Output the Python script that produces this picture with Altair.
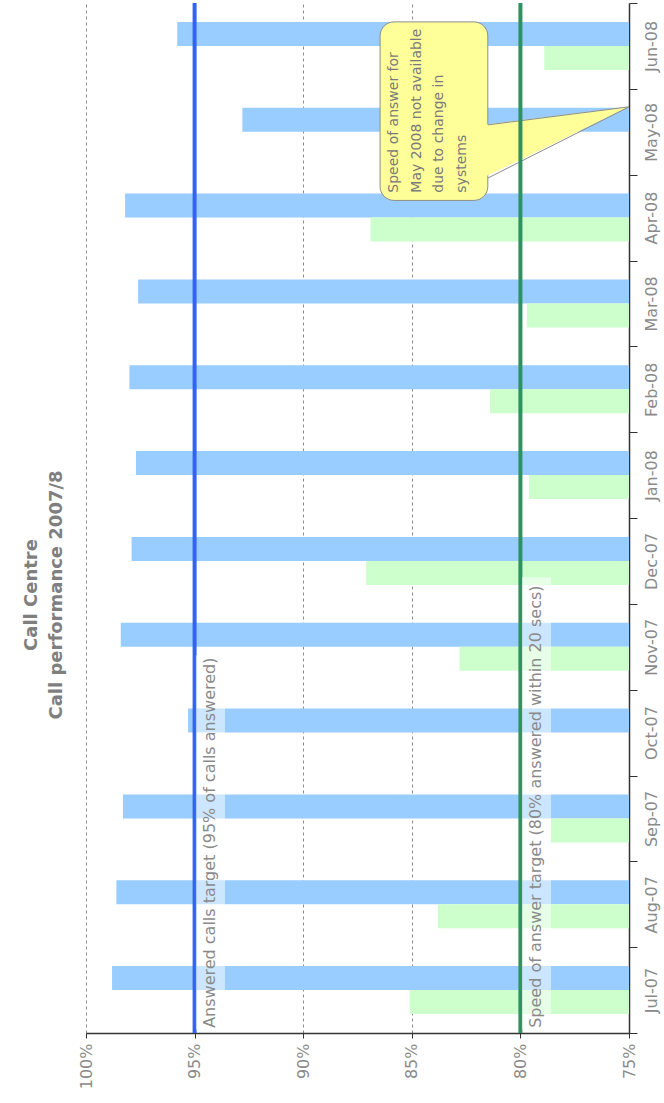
import altair as alt
import pandas as pd

# ---- data -------------------------------------------------------------
months = ["Jul-07", "Aug-07", "Sep-07", "Oct-07", "Nov-07", "Dec-07",
          "Jan-08", "Feb-08", "Mar-08", "Apr-08", "May-08", "Jun-08"]
answered_calls = [0.988, 0.986, 0.983, 0.953, 0.984, 0.979,
                  0.977, 0.980, 0.976, 0.982, 0.928, 0.958]
speed_of_answer = [0.851, 0.838, 0.786, None, 0.828, 0.871,
                   0.796, 0.814, 0.797, 0.869, None, 0.789]

series = ["Answered calls", "Speed of answer"]
series_colors = ["#99ccff", "#ccffcc"]
value_ticks = [0.75, 0.80, 0.85, 0.90, 0.95, 1.00]
axis_floor = 0.75

answered_target = 0.95
speed_target = 0.80
target_labels = ["Answered calls target (95% of calls answered)",
                 "Speed of answer target (80% answered within 20 secs)"]
target_colors = ["#3363f5", "#2e9160"]

title_lines = ["Call Centre", "Call performance 2007/8"]
note_lines = ["Speed of answer for", "May 2008 not available",
              "due to change in", "systems"]

# ---- tables -----------------------------------------------------------
rows = []
for m, a, s in zip(months, answered_calls, speed_of_answer):
    rows.append({"month": m, "series": "Answered calls", "value": a})
    if s is not None:
        rows.append({"month": m, "series": "Speed of answer", "value": s})
bars_df = pd.DataFrame(rows)

targets_df = pd.DataFrame({
    "target": [answered_target, speed_target],
    "line_color": target_colors,
})

# target captions sit just inside each target line; "slot" counts month
# bands from the foot of the plot (0 = bottom edge, 12 = top edge)
captions_df = pd.DataFrame({
    "label": target_labels,
    "pos": [0.9428, 0.7928],
    "slot": [0.06, 0.06],
    "bg_x": [0.9494, 0.7993],
    "bg_x2": [0.9360, 0.7859],
    "bg_y": [0.04, 0.04],
    "bg_y2": [4.40, 5.31],
})

# call-out for the missing May 2008 figure
note_box_df = pd.DataFrame({"x": [0.8646], "x2": [0.8150], "y": [9.70], "y2": [11.78]})
pointer_df = pd.DataFrame({"x": [0.8175, 0.75], "y": [10.58, 10.79], "y2": [9.96, 10.79]})
pointer_edges_df = pd.DataFrame({"x": [0.8150, 0.8150], "x2": [0.75, 0.75],
                                 "y": [10.58, 9.96], "y2": [10.79, 10.79]})
note_text_df = pd.DataFrame({"x": [0.8614], "y": [9.79], "text": ["\n".join(note_lines)]})

# ---- styling ----------------------------------------------------------
FONT = "DejaVu Sans"
GREY = "#8a8a8a"
DARK = "#333333"

x_scale = alt.Scale(domain=[axis_floor, 1.0], reverse=True, nice=False, zero=False)
slot_scale = alt.Scale(domain=[0, 12], nice=False, zero=False)

x_axis = alt.Axis(values=value_ticks, format=".0%", labelAngle=270,
                  labelAlign="right", labelBaseline="middle", labelPadding=5,
                  labelFontSize=16, labelColor=GREY, labelFont=FONT,
                  tickSize=5, tickColor=DARK, domainColor=DARK, domainWidth=1.5,
                  grid=True, gridDash=[3, 3], gridColor="#8c8c8c", gridWidth=1,
                  title=None, labelOverlap=False, labelFlush=False)

y_axis = alt.Axis(orient="right", tickBand="extent", labelAngle=270,
                  labelAlign="center", labelBaseline="top", labelPadding=6,
                  labelFontSize=16, labelColor=GREY, labelFont=FONT,
                  tickSize=8, tickColor=DARK, domainColor=DARK, domainWidth=1.5,
                  grid=False, title=None, labelOverlap=False)


def value_x(field):
    # every layer shares the percentage scale and the same bottom axis
    return alt.X(field, scale=x_scale, axis=x_axis)


def slot_y(field):
    return alt.Y(field, scale=slot_scale, axis=None)


# ---- layers -----------------------------------------------------------
bars = alt.Chart(bars_df).mark_bar().encode(
    y=alt.Y("month:N", sort=months[::-1],
            scale=alt.Scale(paddingInner=0, paddingOuter=0), axis=y_axis),
    yOffset=alt.YOffset("series:N", sort=series,
                        scale=alt.Scale(paddingInner=0, paddingOuter=0.79)),
    x=value_x("value:Q"),
    x2=alt.datum(axis_floor),
    color=alt.Color("series:N", scale=alt.Scale(domain=series, range=series_colors),
                    legend=None),
)

note_box = alt.Chart(note_box_df).mark_rect(
    cornerRadius=14, fill="#ffff99", stroke="#8c8c8c", strokeWidth=1
).encode(
    x=value_x("x:Q"), x2="x2:Q",
    y=slot_y("y:Q"), y2="y2:Q",
)

note_pointer = alt.Chart(pointer_df).mark_area(fill="#ffff99", orient="vertical").encode(
    x=value_x("x:Q"),
    y=slot_y("y:Q"),
    y2="y2:Q",
)

note_edges = alt.Chart(pointer_edges_df).mark_rule(color="#8c8c8c", strokeWidth=1).encode(
    x=value_x("x:Q"), x2="x2:Q",
    y=slot_y("y:Q"), y2="y2:Q",
)

note_text = alt.Chart(note_text_df).mark_text(
    angle=270, align="left", baseline="top", lineBreak="\n", lineHeight=22.5,
    fontSize=14, font=FONT, color="#7a7a7a",
).encode(
    x=value_x("x:Q"),
    y=slot_y("y:Q"),
    text="text:N",
)

target_lines = alt.Chart(targets_df).mark_rule(strokeWidth=4).encode(
    x=value_x("target:Q"),
    color=alt.Color("line_color:N", scale=None),
)

caption_bg = alt.Chart(captions_df).mark_rect(fill="white", opacity=0.5).encode(
    x=value_x("bg_x:Q"), x2="bg_x2:Q",
    y=slot_y("bg_y:Q"), y2="bg_y2:Q",
)

captions = alt.Chart(captions_df).mark_text(
    angle=270, align="left", baseline="middle", fontSize=16, font=FONT, color=GREY,
).encode(
    x=value_x("pos:Q"),
    y=slot_y("slot:Q"),
    text="label:N",
)

chart = alt.layer(
    bars, note_box, note_pointer, note_edges, note_text,
    target_lines, caption_bg, captions,
).resolve_scale(
    y="independent"
).properties(
    width=543,
    height=1030,
    background="white",
    padding={"left": 86, "top": 3, "right": 35, "bottom": 70},
    autosize=alt.AutoSizeParams(type="none"),
    title=alt.TitleParams(
        text=title_lines, orient="left", anchor="middle", frame="group",
        font=FONT, fontSize=18, fontWeight="bold", color="#7f7f7f",
        lineHeight=25, offset=12, dx=-77,
    ),
).configure_view(stroke=None)

chart.save("out.html", embed_options={"renderer": "svg", "actions": False})
